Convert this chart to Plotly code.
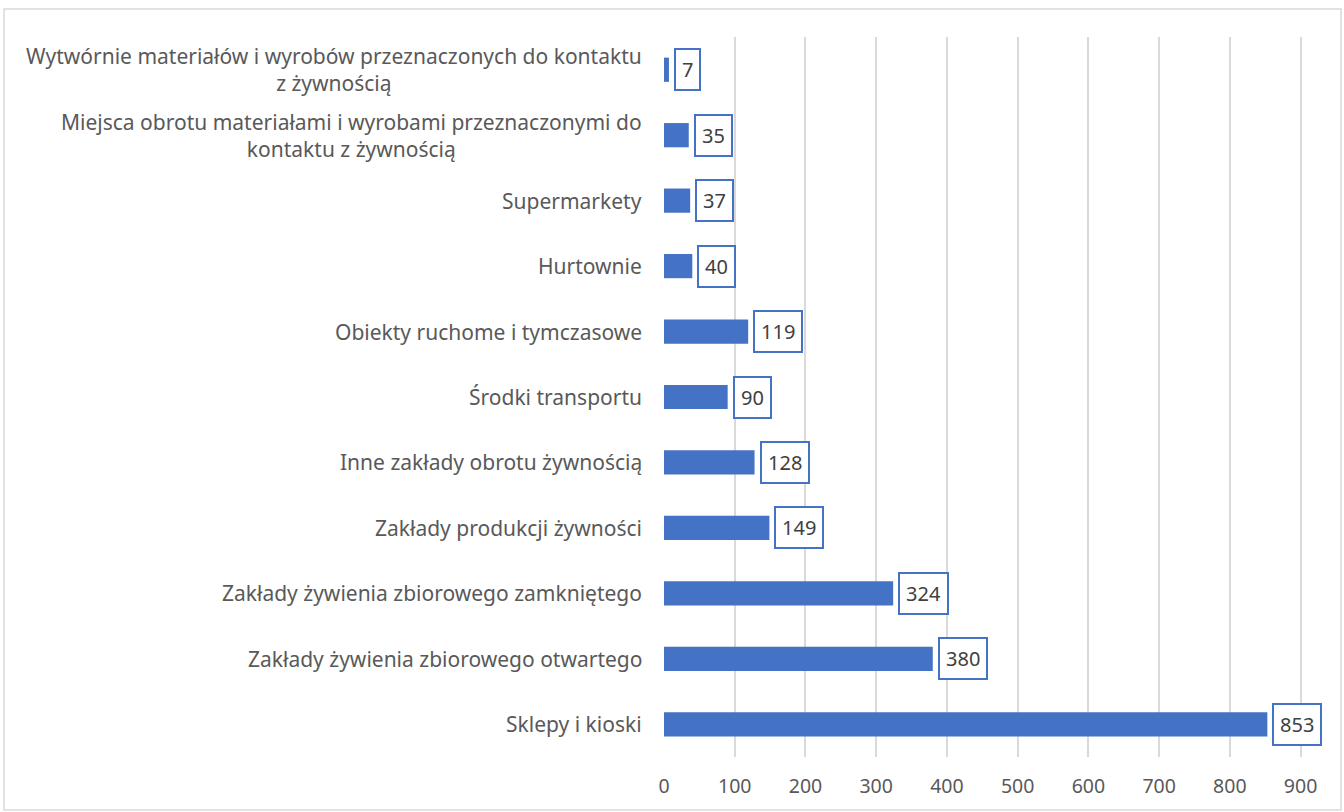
import plotly.graph_objects as go

categories = [
    "Wytwórnie materiałów i wyrobów przeznaczonych do kontaktu<br>z żywnością",
    "Miejsca obrotu materiałami i wyrobami przeznaczonymi do<br>kontaktu z żywnością",
    "Supermarkety",
    "Hurtownie",
    "Obiekty ruchome i tymczasowe",
    "Środki transportu",
    "Inne zakłady obrotu żywnością",
    "Zakłady produkcji żywności",
    "Zakłady żywienia zbiorowego zamkniętego",
    "Zakłady żywienia zbiorowego otwartego",
    "Sklepy i kioski",
]
values = [7, 35, 37, 40, 119, 90, 128, 149, 324, 380, 853]
x_ticks = [0, 100, 200, 300, 400, 500, 600, 700, 800, 900]

BLUE = "#4472C4"
FONT = "Noto Sans"

fig = go.Figure(
    go.Bar(
        x=values,
        y=categories,
        orientation="h",
        marker=dict(color=BLUE, line=dict(width=0)),
        width=0.37,
        hoverinfo="skip",
    )
)

# value labels in outlined boxes next to each bar
for cat, v in zip(categories, values):
    fig.add_annotation(
        x=v, y=cat, xref="x", yref="y",
        text=str(v), showarrow=False,
        xanchor="left", xshift=5,
        font=dict(family=FONT, size=20, color="#404040"),
        bgcolor="white", bordercolor=BLUE, borderwidth=2, borderpad=6,
    )

# category labels, centred per line
for cat in categories:
    fig.add_annotation(
        x=0, y=cat, xref="paper", yref="y",
        text=cat, showarrow=False,
        xanchor="right", xshift=-20, align="center",
        font=dict(family=FONT, size=21, color="#595959"),
    )

# outer chart frame
fig.add_shape(
    type="rect", xref="paper", yref="paper",
    x0=(4 - 664) / 638, x1=(1341 - 664) / 638,
    y0=-(810 - 757) / 720, y1=1 + (37 - 9) / 720,
    line=dict(color="#D9D9D9", width=1.5), fillcolor="rgba(0,0,0,0)",
    layer="below",
)

fig.update_layout(
    width=1344, height=812,
    margin=dict(l=664, r=42, t=37, b=55),
    paper_bgcolor="white", plot_bgcolor="white",
    showlegend=False,
    xaxis=dict(
        range=[0, 902], tickvals=x_ticks,
        showgrid=True, gridcolor="#D9D9D9", gridwidth=2,
        zeroline=False, showline=False,
        tickfont=dict(family=FONT, size=19.5, color="#595959"),
        ticks="outside", ticklen=12, tickcolor="rgba(0,0,0,0)",
    ),
    yaxis=dict(
        autorange="reversed", showticklabels=False,
        showgrid=False, zeroline=False, showline=False,
    ),
)

fig.write_html("out.html")
